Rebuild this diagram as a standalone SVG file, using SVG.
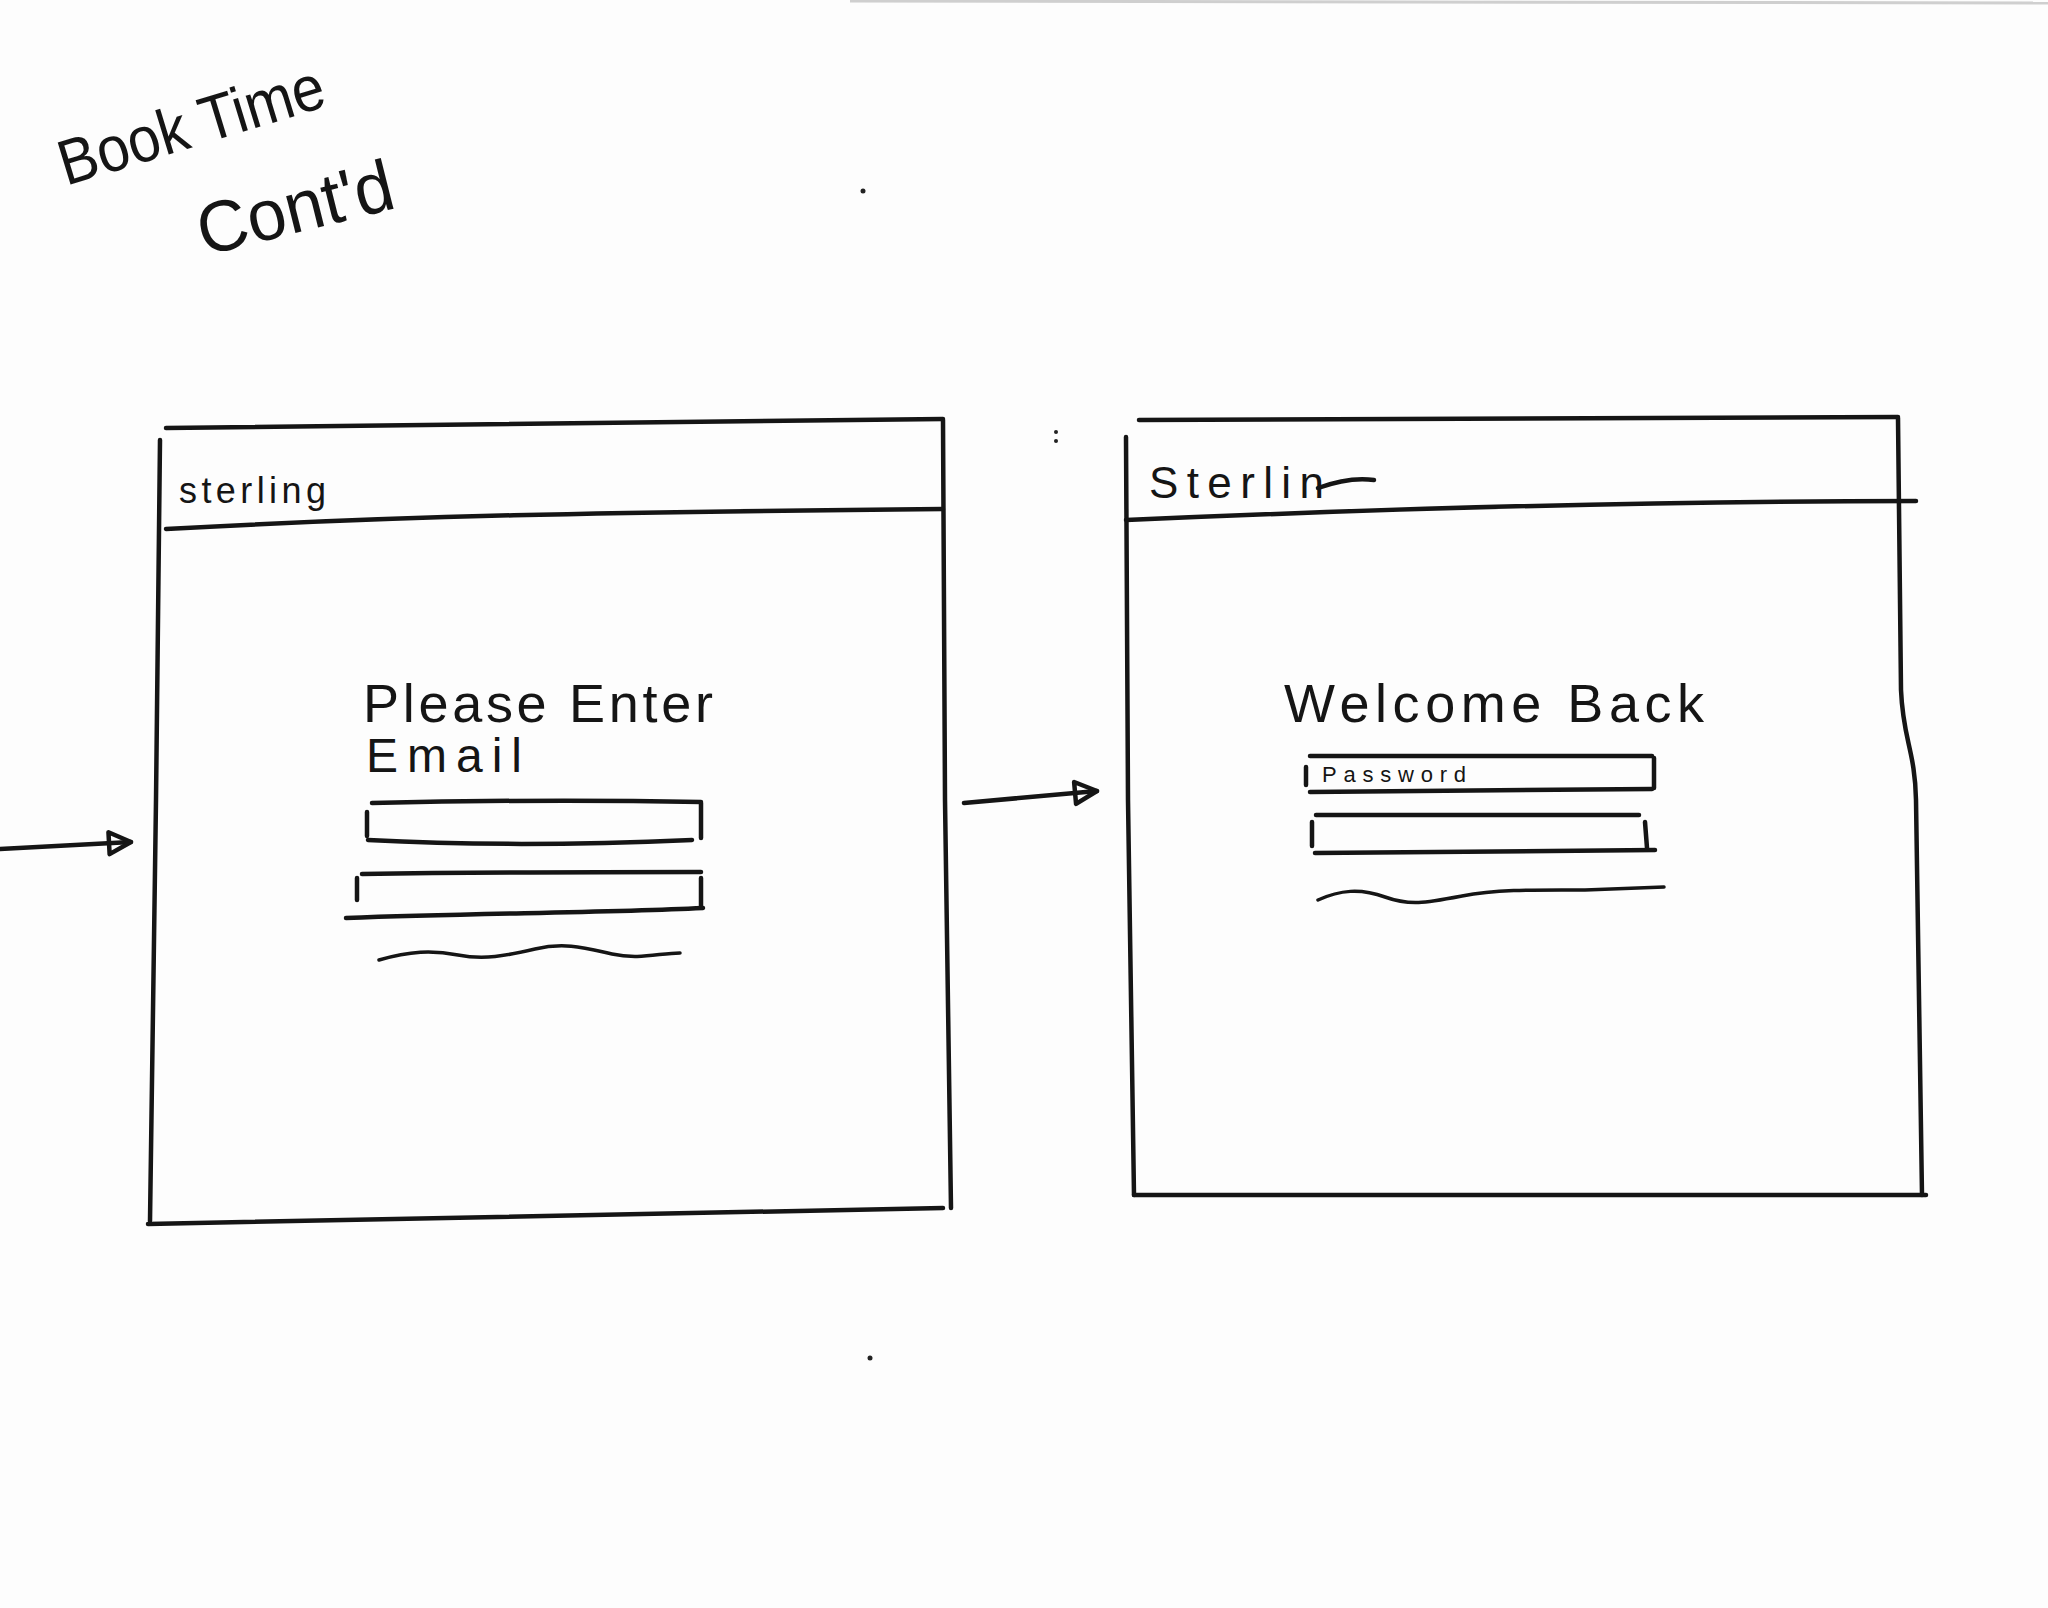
<svg xmlns="http://www.w3.org/2000/svg" width="2048" height="1608" viewBox="0 0 2048 1608">
<defs>
<style>
.ink{fill:none;stroke:#151515;stroke-width:4.5;stroke-linecap:round;stroke-linejoin:round}
.thin{fill:none;stroke:#151515;stroke-width:3.5;stroke-linecap:round}
.hand{font-family:"Liberation Sans","DejaVu Sans",sans-serif;fill:#151515}
</style>
<marker id="arr" markerUnits="userSpaceOnUse" markerWidth="34" markerHeight="34" refX="26" refY="13" orient="auto" viewBox="0 0 34 26">
<path d="M4,2 L26,13 L4,24 Z M4,2 L4,24" fill="none" stroke="#151515" stroke-width="4.5" stroke-linejoin="round"/>
</marker>
</defs>
<rect width="2048" height="1608" fill="#fdfdfd"/>
<line x1="850" y1="1" x2="2048" y2="3" stroke="#cfcfcf" stroke-width="3"/>

<g id="title">
<text class="hand" x="66" y="186" font-size="64" textLength="275" lengthAdjust="spacingAndGlyphs" transform="rotate(-17 66 186)">Book Time</text>
<text class="hand" x="204" y="256" font-size="72" textLength="200" lengthAdjust="spacingAndGlyphs" transform="rotate(-14 204 256)">Cont'd</text>
</g>

<g id="marks" fill="#222">
<circle cx="863" cy="191" r="2.5"/>
<circle cx="1056" cy="432" r="2"/>
<circle cx="1056" cy="441" r="2"/>
<circle cx="870" cy="1358" r="2.5"/>
</g>

<g id="screen-email">
<path class="ink" d="M166,428 L943,419"/>
<path class="ink" d="M160,440 L156,800 L150,1221"/>
<path class="ink" d="M943,420 L945,800 L951,1208"/>
<path class="ink" d="M148,1224 L943,1208"/>
<path class="ink" d="M166,529 C 400,516 600,512 943,509"/>
<text class="hand" x="179" y="503" font-size="36" textLength="147">sterling</text>
<text class="hand" x="363" y="722" font-size="54" textLength="350">Please Enter</text>
<text class="hand" x="366" y="772" font-size="48" textLength="156">Email</text>
<path class="ink" d="M372,803 C 500,800 600,800 701,802"/>
<path class="ink" d="M367,812 L367,836"/>
<path class="ink" d="M701,803 L701,838"/>
<path class="ink" d="M368,840 C 480,846 600,844 692,840"/>
<path class="ink" d="M362,874 C 500,872 600,872 701,872"/>
<path class="ink" d="M357,878 L357,900"/>
<path class="ink" d="M701,878 L701,906"/>
<path class="ink" d="M346,918 C 480,913 600,913 703,908"/>
<path class="thin" d="M379,960 C 410,951 432,950 458,955 S 505,956 535,949 S 585,948 612,954 S 660,953 680,953"/>
</g>

<g id="screen-password">
<path class="ink" d="M1139,420 L1898,417"/>
<path class="ink" d="M1126,437 L1128,800 L1134,1195"/>
<path class="ink" d="M1898,418 L1901,690 C 1903,740 1915,750 1916,800 L1922,1195"/>
<path class="ink" d="M1134,1195 L1926,1195"/>
<path class="ink" d="M1126,520 C 1400,508 1650,501 1916,501"/>
<text class="hand" x="1149" y="498" font-size="44" textLength="175">Sterlin</text>
<path class="ink" d="M1318,488 C 1340,480 1360,478 1374,480"/>
<text class="hand" x="1284" y="722" font-size="54" textLength="420">Welcome Back</text>
<path class="ink" d="M1310,756 L1652,756"/>
<path class="ink" d="M1306,767 L1306,785"/>
<path class="ink" d="M1654,758 L1654,788"/>
<path class="ink" d="M1310,792 C 1450,790 1560,790 1652,789"/>
<text class="hand" x="1322" y="782" font-size="22" textLength="144">Password</text>
<path class="ink" d="M1316,815 L1639,815"/>
<path class="ink" d="M1312,822 L1312,846"/>
<path class="ink" d="M1645,822 L1647,848"/>
<path class="ink" d="M1315,853 C 1450,852 1560,851 1655,850"/>
<path class="thin" d="M1318,900 C 1340,890 1360,888 1385,897 S 1425,903 1462,896 S 1540,890 1585,890 L 1664,887"/>
</g>

<g id="connectors">
<path class="ink" d="M0,849 L131,842" marker-end="url(#arr)"/>
<path class="ink" d="M964,803 L1097,791" marker-end="url(#arr)"/>
</g>
</svg>
